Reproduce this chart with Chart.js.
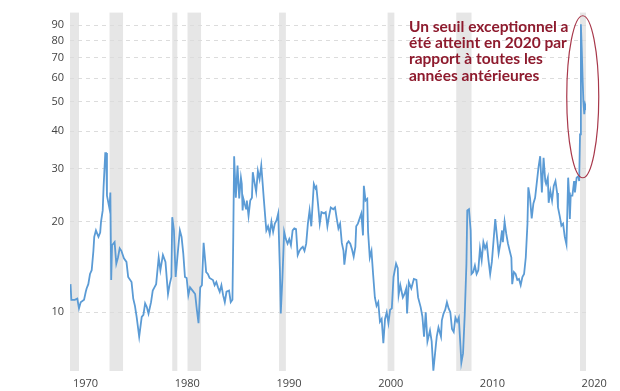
<!DOCTYPE html>
<html lang="fr">
<head>
<meta charset="utf-8">
<title>Ratio 1970-2020</title>
<script src="https://cdn.jsdelivr.net/npm/chart.js@4.4.1/dist/chart.umd.min.js"></script>
<style>
  html, body { margin: 0; padding: 0; background: #fff; }
  #chart { display: block; }
</style>
</head>
<body>
<canvas id="chart" width="620" height="391"></canvas>
<script>
// Monthly readings (month, value)
const months = [
    '1970-01','1970-02','1970-06','1970-09','1970-11','1971-01','1971-05','1971-07','1971-08','1971-10','1971-12',
    '1972-02','1972-04','1972-05','1972-07','1972-10','1972-12','1973-01','1973-03','1973-04','1973-06','1973-07',
    '1973-08','1973-11','1973-12','1974-01','1974-02','1974-05','1974-07','1974-09','1974-11','1975-01','1975-04',
    '1975-07','1975-09','1976-01','1976-03','1976-05','1976-07','1976-10','1977-01','1977-03','1977-05','1977-07',
    '1977-09','1977-12','1978-02','1978-04','1978-06','1978-09','1978-11','1979-02','1979-05','1979-08','1979-10',
    '1979-12','1980-01','1980-03','1980-05','1980-06','1980-08','1980-10','1980-12','1981-02','1981-04','1981-06',
    '1981-08','1981-10','1982-01','1982-04','1982-06','1982-08','1982-10','1982-12','1983-02','1983-04','1983-05',
    '1983-07','1983-09','1984-01','1984-03','1984-05','1984-07','1984-09','1984-11','1985-01','1985-03','1985-05',
    '1985-08','1985-10','1985-12','1986-01','1986-02','1986-04','1986-06','1986-08','1986-10','1986-11','1986-12',
    '1987-01','1987-04','1987-05','1987-07','1987-09','1987-11','1987-12','1988-02','1988-04','1988-06','1988-08',
    '1988-10','1988-11','1989-01','1989-03','1989-04','1989-06','1989-08','1989-10','1989-12','1990-02','1990-04',
    '1990-06','1990-08','1990-09','1990-11','1991-01','1991-03','1991-05','1991-07','1991-09','1991-11','1992-01',
    '1992-03','1992-05','1992-07','1992-09','1992-11','1993-01','1993-03','1993-05','1993-07','1993-09','1993-12',
    '1994-02','1994-03','1994-05','1994-07','1994-09','1994-12','1995-02','1995-04','1995-06','1995-08','1995-11',
    '1996-01','1996-03','1996-05','1996-07','1996-09','1996-11','1996-12','1997-03','1997-05','1997-07','1997-09',
    '1997-11','1998-01','1998-02','1998-04','1998-06','1998-08','1998-10','1998-11','1999-01','1999-03','1999-04',
    '1999-06','1999-08','1999-10','1999-12','2000-02','2000-04','2000-06','2000-08','2000-10','2000-12','2001-02',
    '2001-04','2001-06','2001-08','2001-10','2002-01','2002-03','2002-04','2002-06','2002-09','2002-11','2003-01',
    '2003-02','2003-04','2003-07','2003-10','2004-01','2004-03','2004-06','2004-08','2004-10','2004-12','2005-02',
    '2005-05','2005-07','2005-09','2005-12','2006-01','2006-03','2006-06','2006-07','2006-09','2006-11','2007-01',
    '2007-03','2007-05','2007-07','2007-09','2007-11','2008-01','2008-03','2008-05','2008-06','2008-08','2008-10',
    '2008-12','2009-01','2009-03','2009-05','2009-06','2009-08','2009-10','2009-12','2010-02','2010-04','2010-06',
    '2010-08','2010-10','2010-12','2011-02','2011-04','2011-06','2011-08','2011-10','2011-12','2012-02','2012-04',
    '2012-06','2012-07','2012-09','2012-11','2013-01','2013-03','2013-05','2013-06','2013-08','2013-10','2013-12',
    '2014-02','2014-04','2014-06','2014-08','2014-10','2014-12','2015-01','2015-03','2015-05','2015-07','2015-09',
    '2016-01','2016-03','2016-05','2016-07','2016-09','2016-10','2016-12','2017-01','2017-03','2017-05','2017-07',
    '2017-09','2017-11','2017-12','2018-02','2018-04','2018-06','2018-08','2018-10','2018-11','2018-12','2019-01',
    '2019-02','2019-03','2019-05','2019-07','2019-08','2019-10','2019-12','2020-01','2020-02','2020-03','2020-04',
    '2020-05','2020-06','2020-07','2020-08','2020-09'
];

const values = [
    12.4, 11.0, 11.0, 11.1, 10.3, 10.8, 11.0, 11.7, 12.0, 12.4, 13.4,
    13.8, 16.0, 17.8, 18.7, 17.8, 18.4, 20.0, 21.8, 26.0, 33.8, 33.8,
    24.4, 22.1, 25.0, 12.8, 16.7, 17.1, 14.5, 15.2, 16.3, 16.0, 15.1,
    14.7, 13.1, 12.6, 11.1, 10.5, 9.65, 8.3, 9.65, 9.8, 10.7, 10.4,
    9.9, 10.8, 11.8, 12.1, 12.4, 15.2, 13.8, 15.5, 14.7, 11.5, 12.4,
    13.1, 20.7, 18.7, 13.1, 14.1, 16.3, 18.7, 17.8, 15.7, 13.1, 13.0,
    11.4, 12.1, 11.8, 11.5, 10.2, 9.2, 12.1, 12.3, 17.0, 14.7, 13.6,
    13.4, 13.0, 12.8, 12.3, 12.6, 12.1, 11.7, 12.3, 11.4, 10.8, 11.7,
    11.8, 10.8, 11.0, 18.0, 33.0, 24.0, 30.7, 23.9, 28.0, 26.7, 21.8,
    23.8, 22.1, 23.5, 20.9, 23.5, 24.0, 29.2, 27.0, 25.1, 29.5, 27.7,
    30.7, 28.3, 23.8, 20.2, 18.7, 19.3, 18.2, 20.0, 18.5, 19.7, 20.2,
    21.3, 13.8, 9.9, 13.1, 18.5, 17.5, 16.9, 17.5, 16.7, 18.7, 19.0,
    18.9, 15.5, 16.0, 16.3, 16.5, 16.0, 16.9, 19.7, 21.8, 19.3, 26.7,
    25.8, 26.1, 22.8, 19.7, 21.5, 21.3, 21.5, 19.3, 20.9, 22.3, 22.0,
    22.3, 20.5, 19.0, 19.7, 17.0, 16.0, 14.4, 16.9, 17.2, 16.9, 16.2,
    15.3, 16.5, 19.3, 19.7, 20.5, 21.3, 18.0, 26.3, 23.5, 23.8, 18.5,
    15.2, 16.0, 13.3, 11.2, 10.5, 10.8, 9.3, 9.5, 7.9, 9.5, 10.0,
    9.2, 10.2, 10.3, 13.1, 14.5, 14.0, 11.4, 12.3, 11.2, 11.5, 12.0,
    9.9, 12.6, 12.0, 12.9, 12.8, 11.2, 10.4, 9.7, 8.3, 10.0, 8.0,
    8.7, 8.0, 6.4, 7.8, 8.3, 8.9, 8.3, 9.4, 9.9, 10.2, 10.8,
    10.3, 10.0, 8.8, 8.6, 9.6, 9.3, 9.6, 7.7, 6.8, 7.3, 9.8,
    14.5, 21.8, 22.0, 18.7, 13.4, 13.6, 14.3, 13.4, 13.8, 16.3, 14.9,
    17.1, 16.3, 16.9, 14.9, 13.4, 14.7, 17.3, 20.4, 17.9, 15.7, 16.9,
    18.7, 17.1, 20.0, 18.2, 16.9, 16.0, 15.2, 12.4, 13.6, 13.4, 12.8,
    12.9, 12.3, 13.1, 13.4, 15.2, 19.7, 26.0, 24.0, 20.5, 23.0, 24.0,
    30.3, 33.0, 25.0, 32.6, 27.3, 26.7, 28.0, 23.1, 25.3, 23.5, 26.3,
    27.3, 24.9, 22.3, 20.9, 19.4, 19.7, 17.8, 16.8, 21.5, 28.0, 25.0,
    20.4, 24.4, 24.4, 27.3, 25.0, 28.0, 28.3, 27.3, 39.0, 90.5, 75.0,
    60.0, 50.0, 45.5, 49.0, 48.0
];

// Recessions (shaded bands)
const recessionStarts = ['1969-12', '1973-11', '1980-01', '1981-07', '1990-07', '2001-03', '2007-12', '2020-02'];
const recessionEnds   = ['1970-11', '1975-03', '1980-07', '1982-11', '1991-03', '2001-11', '2009-06', '2020-09'];

// Axis ticks
const yearTicks = [1970, 1980, 1990, 2000, 2010, 2020];
const valueTicks = [10, 20, 30, 40, 50, 60, 70, 80, 90];

const noteLines = [
    'Un seuil exceptionnel a',
    'été atteint en 2020 par',
    'rapport à toutes les',
    'années antérieures'
];

const toYear = (s) => {
    const [y, m] = s.split('-').map(Number);
    return y + (m - 1) / 12;
};

document.addEventListener('DOMContentLoaded', () => {
    const ctx = document.getElementById('chart').getContext('2d');

    // grey recession bands behind everything
    const recessionBands = {
        id: 'recessionBands',
        beforeDraw(chart) {
            const { ctx, chartArea, scales } = chart;
            ctx.save();
            ctx.fillStyle = '#fff';
            ctx.fillRect(0, 0, chart.width, chart.height);
            ctx.fillStyle = '#e6e6e6';
            recessionStarts.forEach((start, i) => {
                let x1 = scales.x.getPixelForValue(toYear(start));
                let x2 = scales.x.getPixelForValue(toYear(recessionEnds[i]));
                x1 = Math.max(x1, chartArea.left);
                x2 = Math.min(x2, chartArea.right);
                ctx.fillRect(x1, chartArea.top, x2 - x1, chartArea.bottom - chartArea.top);
            });
            ctx.restore();
        }
    };

    // the note and the ellipse round the 2020 peak
    const note = {
        id: 'note',
        afterDraw(chart) {
            const { ctx, scales } = chart;
            ctx.save();
            const cx = scales.x.getPixelForValue(2020.35);
            const cy = scales.y.getPixelForValue(52);
            ctx.strokeStyle = '#a8384b';
            ctx.lineWidth = 1.2;
            ctx.beginPath();
            ctx.ellipse(cx, cy, 16, 81, 0, 0, Math.PI * 2);
            ctx.stroke();

            ctx.fillStyle = '#8e1b2e';
            ctx.font = 'bold 15.5px Lato';
            ctx.textBaseline = 'alphabetic';
            noteLines.forEach((line, i) => {
                ctx.fillText(line, 409, 32 + i * 16.2);
            });
            ctx.restore();
        }
    };

    new Chart(ctx, {
        type: 'line',
        data: {
            datasets: [{
                data: months.map((m, i) => ({ x: toYear(m), y: values[i] })),
                borderColor: '#5b9bd5',
                borderWidth: 1.8,
                pointRadius: 0,
                tension: 0,
                fill: false
            }]
        },
        options: {
            responsive: false,
            animation: false,
            devicePixelRatio: 1,
            layout: { padding: { top: 11, right: 34, left: 0, bottom: 0 } },
            plugins: {
                legend: { display: false },
                tooltip: { enabled: false }
            },
            scales: {
                x: {
                    type: 'linear',
                    min: 1969.95,
                    max: 2020.67,
                    grid: { display: false, drawTicks: false },
                    border: { display: false },
                    afterBuildTicks: (scale) => {
                        scale.ticks = yearTicks.map(v => ({ value: v }));
                    },
                    afterFit: (scale) => { scale.height = 20; },
                    ticks: {
                        callback: (v) => String(v),
                        color: '#444',
                        font: { family: 'Open Sans', size: 11 },
                        padding: 6,
                        labelOffset: 15,
                        maxRotation: 0,
                        autoSkip: false
                    }
                },
                y: {
                    type: 'logarithmic',
                    min: 6.38,
                    max: 99,
                    grid: { color: '#dcdcdc', drawTicks: false, lineWidth: 1 },
                    border: { display: false, dash: [4, 4] },
                    afterBuildTicks: (scale) => {
                        scale.ticks = valueTicks.map(v => ({ value: v }));
                    },
                    afterFit: (scale) => { scale.width = 70; },
                    ticks: {
                        callback: (v) => String(v),
                        color: '#444',
                        font: { family: 'Open Sans', size: 11 },
                        padding: 6
                    }
                }
            }
        },
        plugins: [recessionBands, note]
    });
});
</script>
</body>
</html>
